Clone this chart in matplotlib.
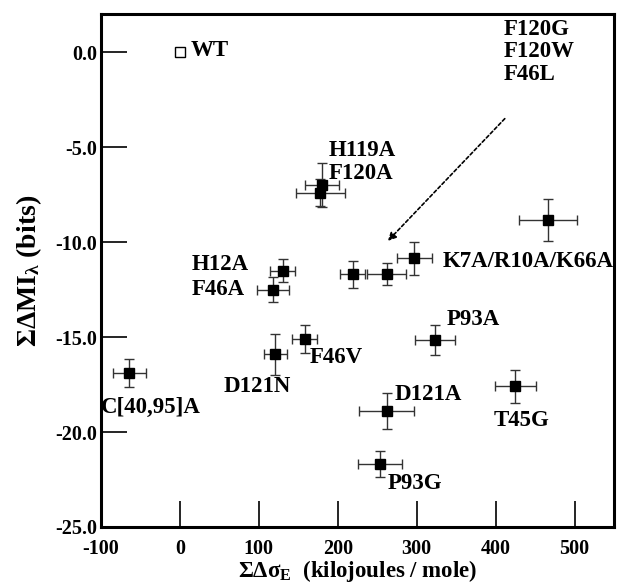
import matplotlib
matplotlib.use("Agg")
import matplotlib.pyplot as plt

plt.rcParams['font.family'] = ['Liberation Serif', 'DejaVu Serif']
plt.rcParams['font.weight'] = 'bold'
plt.rcParams['axes.unicode_minus'] = False
plt.rcParams['mathtext.fontset'] = 'custom'
plt.rcParams['mathtext.rm'] = 'Liberation Serif:bold'
plt.rcParams['mathtext.it'] = 'Liberation Serif:bold'
plt.rcParams['mathtext.bf'] = 'Liberation Serif:bold'

# mutants: x = sum delta sigma_E, y = sum delta MI
names = ['H119A', 'F120A', 'F120G', 'F120W', 'F46L', 'K7A/R10A/K66A', 'H12A', 'F46A',
         'D121N', 'F46V', 'C[40,95]A', 'P93A', 'D121A', 'T45G', 'P93G']
x = [180, 178, 219, 262, 297, 466, 130, 118, 121, 158, -64, 323, 262, 425, 254]
y = [-7.0, -7.4, -11.7, -11.7, -10.85, -8.85, -11.5, -12.5, -15.9, -15.1, -16.9, -15.15, -18.9, -17.6, -21.7]
xerr = [22, 31, 16, 25, 22, 37, 16, 20, 15, 16, 21, 25, 35, 26, 28]
yerr = [1.15, 0.7, 0.7, 0.58, 0.87, 1.1, 0.6, 0.68, 1.08, 0.74, 0.74, 0.79, 0.95, 0.87, 0.68]
wt_x, wt_y = 0, 0

fig = plt.figure(figsize=(6.35, 5.86), dpi=100)
ax = fig.add_axes([0.159, 0.1007, 0.808, 0.8753])

ax.errorbar(x, y, xerr=xerr, yerr=yerr, fmt='s', color='black', ms=7,
            ecolor='#333333', elinewidth=1, capsize=3.5, capthick=1)
ax.plot([wt_x], [wt_y], 's', mfc='white', mec='black', ms=7, mew=1)

fs = 16.5
ax.text(14, 0.1, 'WT', fontsize=fs, va='center', ha='left')
ax.text(410, 1.75, 'F120G\nF120W\nF46L', fontsize=fs, va='top', ha='left', linespacing=1.1)
ax.text(188, -5.2, 'H119A', fontsize=fs, va='center', ha='left')
ax.text(189, -6.4, 'F120A', fontsize=fs, va='center', ha='left')
ax.text(333, -11.0, 'K7A/R10A/K66A', fontsize=fs, va='center', ha='left')
ax.text(15, -11.2, 'H12A', fontsize=fs, va='center', ha='left')
ax.text(15, -12.5, 'F46A', fontsize=fs, va='center', ha='left')
ax.text(55, -17.6, 'D121N', fontsize=fs, va='center', ha='left')
ax.text(165, -16.1, 'F46V', fontsize=fs, va='center', ha='left')
ax.text(-100, -18.7, 'C[40,95]A', fontsize=fs, va='center', ha='left')
ax.text(338, -14.1, 'P93A', fontsize=fs, va='center', ha='left')
ax.text(272, -18.05, 'D121A', fontsize=fs, va='center', ha='left')
ax.text(397, -19.4, 'T45G', fontsize=fs, va='center', ha='left')
ax.text(263, -22.7, 'P93G', fontsize=fs, va='center', ha='left')

ax.annotate('', xy=(261, -10.05), xytext=(414, -3.4),
            arrowprops=dict(arrowstyle='-|>', ls=(0, (2, 1.5)), color='black',
                            lw=1.2, mutation_scale=12))

ax.set_xlim(-100, 550)
ax.set_ylim(-25, 2)
ax.set_xticks([-100, 0, 100, 200, 300, 400, 500])
ax.set_yticks([-25, -20, -15, -10, -5, 0])
ax.set_yticklabels(['-25.0', '-20.0', '-15.0', '-10.0', '-5.0', '0.0'])
ax.tick_params(direction='in', length=19, width=1.2, labelsize=14.5, top=False, right=False)
ax.tick_params(axis='x', pad=9)
ax.tick_params(axis='y', pad=3)
for s in ax.spines.values():
    s.set_linewidth(2.2)

ax.set_xlabel(r'$\Sigma\Delta\sigma_E$  (kilojoules / mole)', fontsize=16.5, fontweight='bold', labelpad=-1)
ax.set_ylabel(r'$\Sigma\Delta MI_\lambda$ (bits)', fontsize=20, fontweight='bold', labelpad=8)

fig.savefig('out.png', dpi=100)
